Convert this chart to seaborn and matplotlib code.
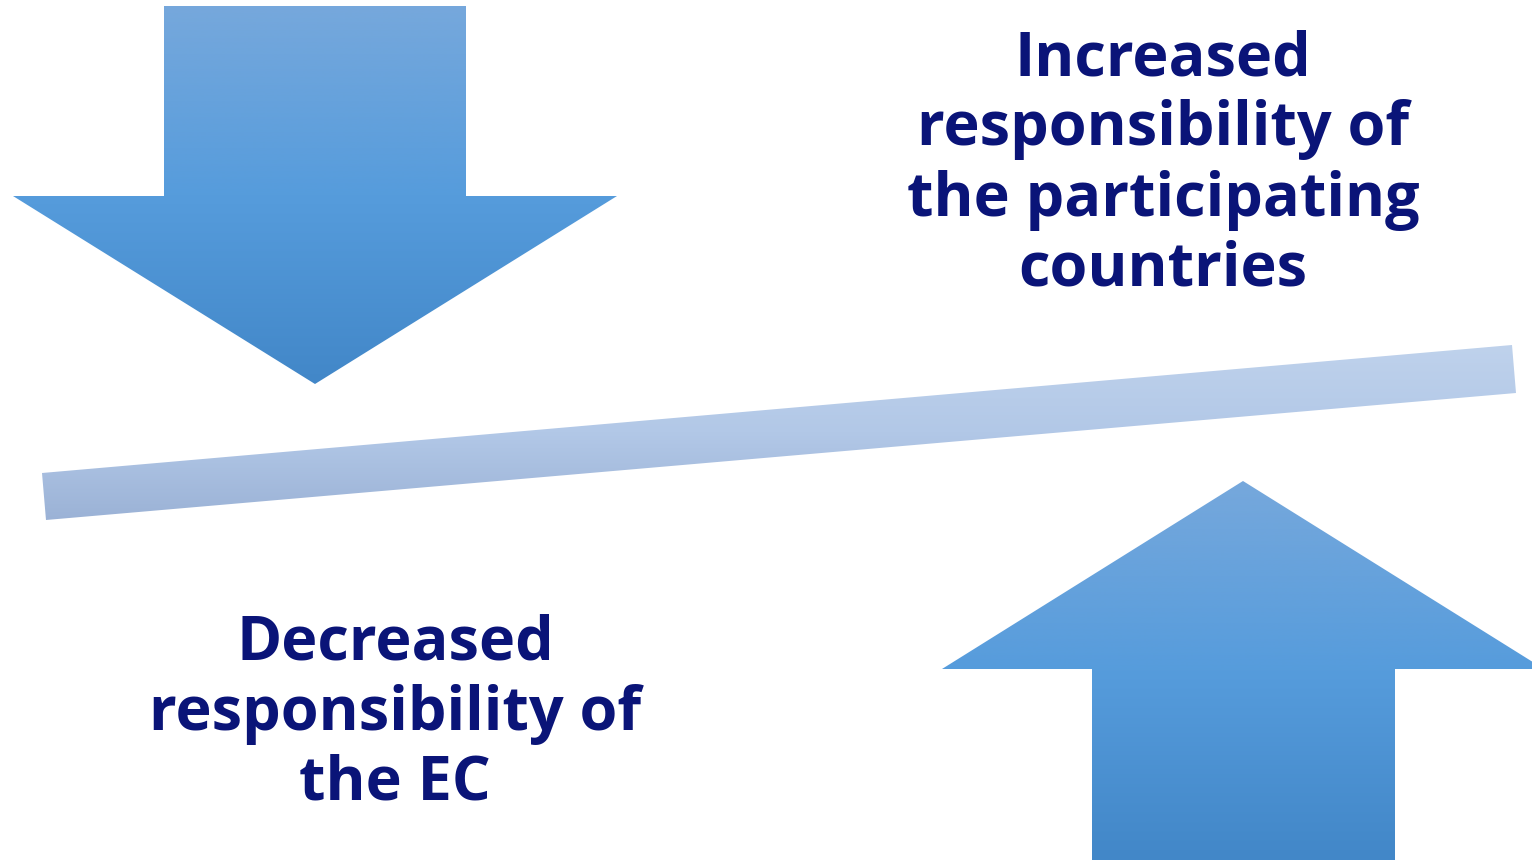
import matplotlib
matplotlib.use("Agg")
import numpy as np
import matplotlib.pyplot as plt
from matplotlib.patches import Polygon
import seaborn as sns

# texts of the diagram
top_lines = ["Increased", "responsibility of", "the participating", "countries"]
bottom_lines = ["Decreased", "responsibility of", "the EC"]

# colours of the gradients (top -> bottom)
arrow_colors = ["#76a8dc", "#569cdc", "#4287c8"]
bar_colors = ["#bfd2ec", "#b2c8e7", "#9bb2d6"]
text_color = "#0a1478"

sns.set_theme(style="white")
plt.rcParams["font.family"] = ["Open Sans", "DejaVu Sans"]

W, H = 1532, 860
fig = plt.figure(figsize=(W / 100, H / 100), dpi=100)
ax = fig.add_axes([0, 0, 1, 1])
ax.set_xlim(0, W)
ax.set_ylim(H, 0)
ax.axis("off")


def gradient_fill(points, colors, y0, y1):
    # vertical gradient clipped to a polygon
    cmap = sns.blend_palette(colors, as_cmap=True)
    xs = [p[0] for p in points]
    grad = np.linspace(0, 1, 256).reshape(-1, 1)
    poly = Polygon(points, closed=True, facecolor="none", edgecolor="none")
    ax.add_patch(poly)
    im = ax.imshow(grad, cmap=cmap, aspect="auto",
                   extent=(min(xs), max(xs), y1, y0), interpolation="bicubic")
    im.set_clip_path(poly)


# down arrow (top left)
down = [(164, 6), (466, 6), (466, 196), (617, 196), (315, 384),
        (13, 196), (164, 196)]
gradient_fill(down, arrow_colors, 6, 384)

# up arrow (bottom right)
up = [(1243, 481), (1544, 669), (1395, 669), (1395, 860), (1092, 860),
      (1092, 669), (942, 669)]
gradient_fill(up, arrow_colors, 481, 860)

# tilted bar
bar = [(42, 473), (1512, 345), (1516, 393), (46, 520)]
gradient_fill(bar, bar_colors, 345, 520)

ax.set_xlim(0, W)
ax.set_ylim(H, 0)

top_base = [75, 145, 216, 286]
for line, yb in zip(top_lines, top_base):
    ax.text(1163, yb, line, ha="center", va="baseline", fontsize=44,
            fontweight="bold", color=text_color)

bottom_base = [660, 730, 800]
for line, yb in zip(bottom_lines, bottom_base):
    ax.text(395, yb, line, ha="center", va="baseline", fontsize=44,
            fontweight="bold", color=text_color)

fig.savefig("out.png", dpi=100)
